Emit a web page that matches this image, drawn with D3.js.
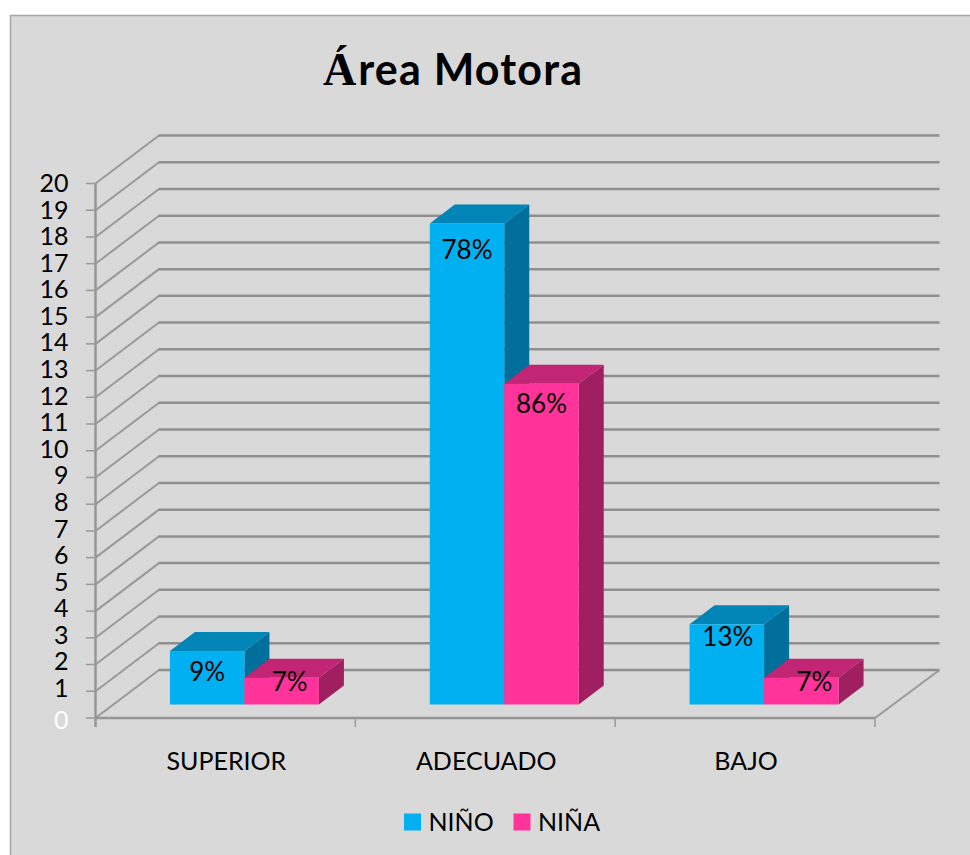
<!DOCTYPE html>
<html>
<head>
<meta charset="utf-8">
<script src="https://cdnjs.cloudflare.com/ajax/libs/d3/7.8.5/d3.min.js"></script>
<style>
  html, body { margin: 0; padding: 0; background: #fff; }
  svg { display: block; }
  text { font-family: Lato, Carlito, sans-serif; fill: #000; }
</style>
</head>
<body>
<div id="chart"></div>
<script>
var categories = ["SUPERIOR", "ADECUADO", "BAJO"];
var seriesNames = ["NIÑO", "NIÑA"];
var ninoValues = [2, 18, 3];
var ninaValues = [1, 12, 1];
var ninoLabels = ["9%", "78%", "13%"];
var ninaLabels = ["7%", "86%", "7%"];
var yTicks = d3.range(0, 21);

var width = 970, height = 855;
var colors = {
    "NIÑO": { front: "#00B0F0", top: "#0085B6", side: "#006F9B" },
    "NIÑA": { front: "#FF3399", top: "#C22574", side: "#A01F60" }
};

//depth of the floor, and of the bars standing on it
var floorDx = 64.5, floorDy = -48;
var barDx = 25, barDy = -19;
var barShiftX = 19, barShiftY = -13.5;

var svg = d3.select("#chart").append("svg")
    .attr("width", width)
    .attr("height", height);

svg.append("rect")
    .attr("x", 10.5).attr("y", 15.5)
    .attr("width", width).attr("height", height)
    .attr("fill", "#D9D9D9")
    .attr("stroke", "#A6A6A6")
    .attr("stroke-width", 1.5);

var y = d3.scaleLinear().domain([0, 20]).range([718, 183.5]);
var x = d3.scaleBand().domain(categories).range([95.5, 875]);
var inner = d3.scaleBand().domain(seriesNames).range([0, 149]);
//the tick numbers sit a little tighter than the ticks themselves
var yLabel = d3.scaleLinear().domain([1, 20]).range([697, 192]);

//walls: diagonal on the left then long line at the back
var walls = svg.append("g").selectAll("g")
    .data(yTicks)
    .enter()
    .append("g");
walls.append("line")
    .attr("stroke", "#999")
    .attr("stroke-width", 2)
    .attr("x1", x.range()[0])
    .attr("y1", function(d){ return y(d); })
    .attr("x2", x.range()[0] + floorDx - 1)
    .attr("y2", function(d){ return y(d) + floorDy; });
walls.append("line")
    .attr("stroke", "#8F8F8F")
    .attr("stroke-width", 2.5)
    .attr("x1", x.range()[0] + floorDx - 1.5)
    .attr("x2", x.range()[1] + floorDx)
    .attr("y1", function(d){ return y(d) + floorDy; })
    .attr("y2", function(d){ return y(d) + floorDy; });

//right edge of the floor
svg.append("line")
    .attr("x1", x.range()[1]).attr("y1", y(0))
    .attr("x2", x.range()[1] + floorDx).attr("y2", y(0) + floorDy)
    .attr("stroke", "#9A9A9A").attr("stroke-width", 2);

//front axes
svg.append("line")
    .attr("x1", x.range()[0]).attr("y1", y(20))
    .attr("x2", x.range()[0]).attr("y2", y(0) + 9)
    .attr("stroke", "#969696").attr("stroke-width", 2.5);
svg.append("line")
    .attr("x1", x.range()[0]).attr("y1", y(0))
    .attr("x2", x.range()[1]).attr("y2", y(0))
    .attr("stroke", "#969696").attr("stroke-width", 2.5);

var yAxis = svg.append("g").selectAll(".ytick")
    .data(yTicks)
    .enter()
    .append("g")
    .classed("ytick", true);
yAxis.append("line")
    .attr("x1", 86).attr("x2", x.range()[0])
    .attr("y1", function(d){ return y(d); })
    .attr("y2", function(d){ return y(d); })
    .attr("stroke", "#9A9A9A").attr("stroke-width", 1.5);
yAxis.append("text")
    .attr("x", 68.5)
    .attr("y", function(d){ return d === 0 ? 729 : yLabel(d); })
    .attr("text-anchor", "end")
    .attr("font-size", 25)
    .style("fill", function(d){ return d === 0 ? "#fff" : "#000"; })
    .text(function(d){ return d; });

//category ticks and names
svg.append("g").selectAll("line")
    .data(categories.concat("end"))
    .enter()
    .append("line")
    .attr("x1", function(d,i){ return x.range()[0] + i * x.bandwidth(); })
    .attr("x2", function(d,i){ return x.range()[0] + i * x.bandwidth(); })
    .attr("y1", y(0))
    .attr("y2", y(0) + 9)
    .attr("stroke", "#9A9A9A").attr("stroke-width", 1.5);

svg.append("g").selectAll("text")
    .data(categories)
    .enter()
    .append("text")
    .attr("x", function(d){ return x(d) + x.bandwidth() / 2 + 1; })
    .attr("y", 770)
    .attr("text-anchor", "middle")
    .attr("font-size", 25)
    .text(function(d){ return d; });

//one object for each bar, boy first so that the girl's bar covers its side
var bars = [];
categories.forEach(function(c, i){
    bars.push({ cat: c, name: seriesNames[0], value: ninoValues[i], label: ninoLabels[i] });
    bars.push({ cat: c, name: seriesNames[1], value: ninaValues[i], label: ninaLabels[i] });
});

//data labels were moved by hand in the original
var labelNudgeX = [0, 8, 0, 0, 1, 13];
var labelNudgeY = [30, 13, 36, 29, 22, 13];

function barLeft(d){
    return x(d.cat) + (x.bandwidth() - inner.range()[1]) / 2 + barShiftX + inner(d.name);
}
function poly(points){
    return points.map(function(p){ return p.join(","); }).join(" ");
}

var bar = svg.append("g").selectAll(".bar")
    .data(bars)
    .enter()
    .append("g")
    .classed("bar", true);

bar.append("polygon") //side face
    .attr("fill", function(d){ return colors[d.name].side; })
    .attr("points", function(d){
        var r = barLeft(d) + inner.bandwidth(), b = y(0) + barShiftY, t = y(d.value) + barShiftY;
        return poly([[r, t], [r + barDx, t + barDy], [r + barDx, b + barDy], [r, b]]);
    });
bar.append("polygon") //top face
    .attr("fill", function(d){ return colors[d.name].top; })
    .attr("points", function(d){
        var l = barLeft(d), r = l + inner.bandwidth(), t = y(d.value) + barShiftY;
        return poly([[l, t], [l + barDx, t + barDy], [r + barDx, t + barDy], [r, t]]);
    });
bar.append("rect") //front face
    .attr("fill", function(d){ return colors[d.name].front; })
    .attr("x", barLeft)
    .attr("y", function(d){ return y(d.value) + barShiftY; })
    .attr("width", inner.bandwidth())
    .attr("height", function(d){ return y(0) - y(d.value); });

svg.append("g").selectAll("text")
    .data(bars)
    .enter()
    .append("text")
    .attr("x", function(d,i){ return barLeft(d) + inner.bandwidth() / 2 + labelNudgeX[i]; })
    .attr("y", function(d,i){ return y(d.value) + barShiftY + labelNudgeY[i]; })
    .attr("text-anchor", "middle")
    .attr("font-size", 26)
    .text(function(d){ return d.label; });

//title, the first letter falls back on a serif face in the original
var title = svg.append("text")
    .attr("x", 323)
    .attr("y", 85)
    .attr("font-weight", "bold");
title.append("tspan")
    .attr("font-size", 46)
    .style("font-family", "'Liberation Serif', serif")
    .text("Á");
title.append("tspan")
    .attr("font-size", 43)
    .attr("dx", 2)
    .style("letter-spacing", "1.2px")
    .text("rea Motora");

//legend
var legendX = [404, 513.5];
var legend = svg.append("g").selectAll("g")
    .data(seriesNames)
    .enter()
    .append("g")
    .attr("transform", function(d,i){ return "translate(" + legendX[i] + ",813.5)"; });
legend.append("rect")
    .attr("width", 17).attr("height", 17)
    .attr("fill", function(d){ return colors[d].front; });
legend.append("text")
    .attr("x", 24.5)
    .attr("y", 17)
    .attr("font-size", 25)
    .text(function(d){ return d; });
</script>
</body>
</html>
